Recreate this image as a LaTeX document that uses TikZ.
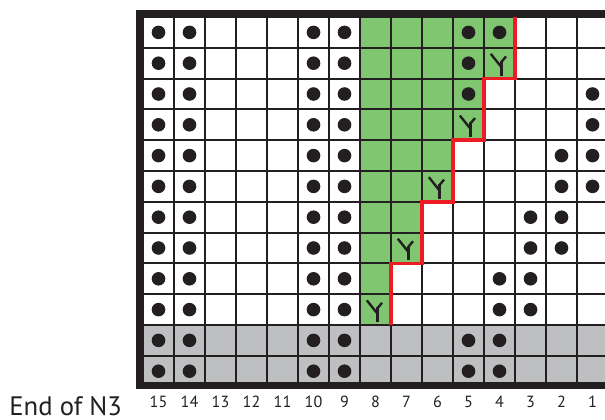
\documentclass[tikz,border=0pt]{standalone}
\usepackage{fontspec}
\setmainfont{PT Sans}
\usepackage{tikz}

\definecolor{chartgreen}{RGB}{128,198,112}
\definecolor{chartgray}{RGB}{190,191,193}
\definecolor{ink}{RGB}{35,31,32}
\definecolor{rowred}{RGB}{237,28,36}

\tikzset{
  stitch/.style={ink, line width=0.06cm, line cap=butt},
  colnum/.style={text=ink, inner sep=0pt, anchor=base, font=\fontsize{11.5}{13}\selectfont},
}

\begin{document}
\begin{tikzpicture}[x=0.775cm, y=0.77cm]
    \useasboundingbox (-4.613,-1.052) rectangle (14.903,12.552);
    \clip (-4.613,-1.052) rectangle (14.903,12.552);

    \fill[chartgray] (0,0) rectangle (15,2);
    \foreach \k in {0,...,4} {
        \fill[chartgreen] (7+\k,2+2*\k) rectangle (8+\k,12);
      }

    \draw[ink, line width=0.05cm, step=1] (0,0) grid (15,12);
    \draw[ink, line width=0.175cm] (15,12.114) -- (-0.113,12.114) -- (-0.113,0.02) -- (15,0.02);

    % purl columns 15, 14, 10, 9
    \foreach \x in {0,1,5,6} {
        \foreach \y in {0,...,11} {
            \fill[ink] (\x+0.5,\y+0.5) circle (0.22);
          }
      }
    \foreach \x/\y in {
        10/11,11/11,10/10,10/9,14/9,14/8,13/7,14/7,13/6,14/6,
        12/5,13/5,12/4,13/4,11/3,12/3,11/2,12/2,10/1,11/1,10/0,11/0
      } {
        \fill[ink] (\x+0.5,\y+0.5) circle (0.22);
      }

    % decreases
    \foreach \k in {0,...,4} {
        \draw[stitch] (7.22+\k,2.8+2*\k) -- (7.57+\k,2.36+2*\k);
        \draw[stitch] (7.57+\k,2.58+2*\k) -- (7.57+\k,2.1+2*\k);
        \draw[stitch] (7.71+\k,2.72+2*\k) -- (7.57+\k,2.55+2*\k);
      }

    \draw[rowred, line width=0.09cm] (12,12) -- (12,10) -- (11,10) -- (11,8) -- (10,8)
      -- (10,6) -- (9,6) -- (9,4) -- (8,4) -- (8,2);

    \foreach \n in {1,...,15} {
        \node[colnum] (num\n) at (15.5-\n,-0.672) {\n};
      }
    \node[text=ink, inner sep=0pt, anchor=base west, font=\fontsize{19}{22}\selectfont]
      (endlbl) at (-4.32,-0.93) {End of N3};
  \end{tikzpicture}
\end{document}
